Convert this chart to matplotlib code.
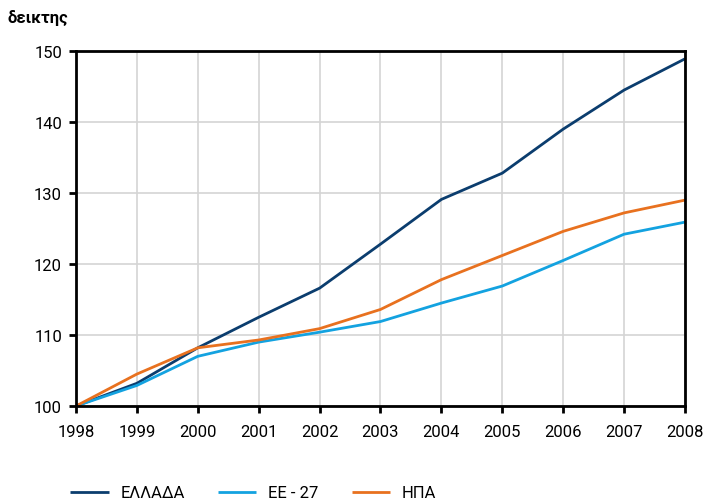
import matplotlib.pyplot as plt

plt.rcParams['font.family'] = ['Roboto', 'DejaVu Sans']

years = [1998, 1999, 2000, 2001, 2002, 2003, 2004, 2005, 2006, 2007, 2008]
greece = [100, 103.2, 108.2, 112.5, 116.6, 122.8, 129.1, 132.8, 139.0, 144.5, 148.9]
eu27 = [100, 102.9, 107.0, 109.0, 110.4, 111.9, 114.5, 116.9, 120.5, 124.2, 125.9]
usa = [100, 104.5, 108.2, 109.3, 110.9, 113.6, 117.8, 121.2, 124.6, 127.2, 129.0]

labels = ['ΕΛΛΑΔΑ', 'ΕΕ - 27', 'ΗΠΑ']
colors = ['#0b3d6e', '#13a2e0', '#e8711f']

fig = plt.figure(figsize=(7.19, 5.02), dpi=100)
ax = fig.add_axes([0.1057, 0.1892, 0.847, 0.7072])

for series, lab, c in zip([greece, eu27, usa], labels, colors):
    ax.plot(years, series, color=c, linewidth=2, label=lab, solid_capstyle='butt')

ax.set_xlim(1998, 2008)
ax.set_ylim(100, 150)
ax.set_xticks(years)
ax.set_yticks(range(100, 151, 10))
ax.grid(True, color='#d4d4d4', linewidth=1.2)
ax.set_axisbelow(True)
for s in ax.spines.values():
    s.set_linewidth(2)
    s.set_color('black')
ax.tick_params(direction='out', length=5, width=2, labelsize=12)
ax.tick_params(axis='x', pad=8)
ax.tick_params(axis='y', pad=5)

fig.text(0.011, 0.964, 'δεικτης', fontsize=12, fontweight='bold', va='center', ha='left')

fig.legend(loc='center left', bbox_to_anchor=(0.077, 0.016), ncol=3, frameon=False,
           fontsize=12, handlelength=2.3, columnspacing=2.0, handletextpad=0.7)

fig.savefig('out.png', dpi=100)
